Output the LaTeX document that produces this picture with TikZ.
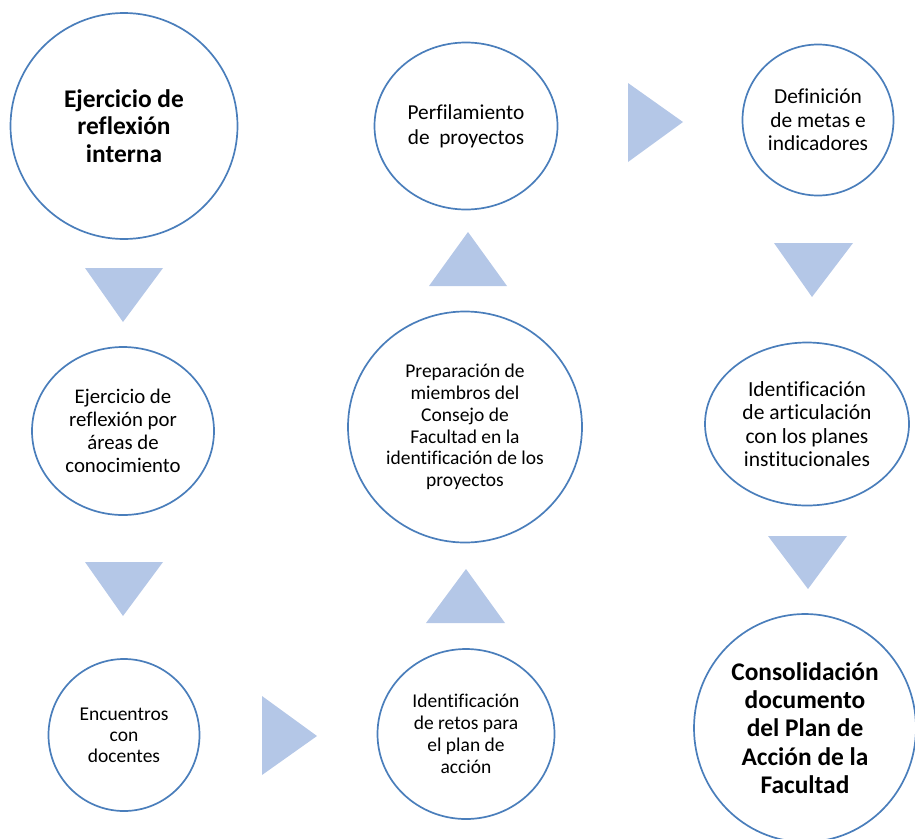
\documentclass[tikz,border=0pt]{standalone}
\usepackage{fontspec}
\setmainfont{Carlito}[Ligatures={NoCommon}]
\usetikzlibrary{shapes.geometric}
\definecolor{ringblue}{RGB}{74,126,187}
\definecolor{triblue}{RGB}{180,199,231}
\begin{document}
\begin{tikzpicture}[x=1pt,y=-1pt,
  stage/.style={ellipse,draw=ringblue,line width=1.7pt,fill=white,inner sep=0pt,align=center,text=black},
  tri/.style={fill=triblue,draw=none}]
\useasboundingbox (0,0) rectangle (915,838);
\clip (0,0) rectangle (915,838);
% stages
\node[stage,minimum width=227pt,minimum height=226pt,font=\bfseries\fontsize{25.4}{27.5}\selectfont] (n1) at (124,126) {Ejercicio de\\reflexión\\interna};
\node[stage,minimum width=182pt,minimum height=168pt,font=\fontsize{20.8}{23}\selectfont] (n2) at (123,431) {Ejercicio de\\reflexión por\\áreas de\\conocimiento};
\node[stage,minimum width=151pt,minimum height=152pt,font=\fontsize{19.5}{21}\selectfont] (n3) at (124,735) {Encuentros\\con\\docentes};
\node[stage,minimum width=177pt,minimum height=170pt,font=\fontsize{19.5}{22}\selectfont] (n4) at (466,734) {Identificación\\de retos para\\el plan de\\acción};
\node[stage,minimum width=234pt,minimum height=231pt,font=\fontsize{19.5}{21.7}\selectfont] (n5) at (465,427) {Preparación de\\miembros del\\Consejo de\\Facultad en la\\identificación de los\\proyectos};
\node[stage,minimum width=183pt,minimum height=167pt,font=\fontsize{21.3}{25}\selectfont] (n6) at (466,126) {Perfilamiento\\de\ \ proyectos};
\node[stage,minimum width=151pt,minimum height=151pt,font=\fontsize{21.4}{23.3}\selectfont] (n7) at (818,120) {Definición\\de metas e\\indicadores};
\node[stage,minimum width=204pt,minimum height=163pt,font=\fontsize{21.5}{23.3}\selectfont] (n8) at (807,424) {Identificación\\de articulación\\con los planes\\institucionales};
\node[stage,minimum width=222pt,minimum height=228pt,font=\bfseries\fontsize{25.4}{28.3}\selectfont] (n9) at (805,728) {Consolidación\\documento\\del Plan de\\Acción de la\\Facultad};
% arrows (triangles)
\fill[tri] (85,268) -- (163,268) -- (123,322) -- cycle;
\fill[tri] (85,562) -- (163,562) -- (123,616) -- cycle;
\fill[tri] (262,696) -- (262,775) -- (317,736) -- cycle;
\fill[tri] (426,623) -- (505,623) -- (466,569) -- cycle;
\fill[tri] (429,286) -- (507,286) -- (468,232) -- cycle;
\fill[tri] (628,83) -- (628,162) -- (683,122) -- cycle;
\fill[tri] (774,243) -- (853,243) -- (812,297) -- cycle;
\fill[tri] (768,536) -- (847,536) -- (808,589) -- cycle;
\end{tikzpicture}
\end{document}
